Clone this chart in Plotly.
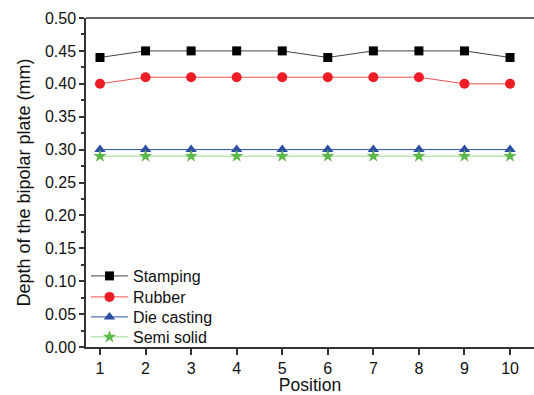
import plotly.graph_objects as go

positions = [1, 2, 3, 4, 5, 6, 7, 8, 9, 10]
stamping = [0.44, 0.45, 0.45, 0.45, 0.45, 0.44, 0.45, 0.45, 0.45, 0.44]
rubber = [0.40, 0.41, 0.41, 0.41, 0.41, 0.41, 0.41, 0.41, 0.40, 0.40]
die_casting = [0.30, 0.30, 0.30, 0.30, 0.30, 0.30, 0.30, 0.30, 0.30, 0.30]
semi_solid = [0.29, 0.29, 0.29, 0.29, 0.29, 0.29, 0.29, 0.29, 0.29, 0.29]

series = [
    ("Stamping", stamping, "#000000", "#444444", "square", 9),
    ("Rubber", rubber, "#ee1c24", "#f05050", "circle", 10),
    ("Die casting", die_casting, "#2b4ea2", "#2b4ea2", "triangle-up", 10),
    ("Semi solid", semi_solid, "#5cb848", "#9ad88a", "star", 10),
]
legend_ids = ["legend", "legend2", "legend3", "legend4"]
legend_rows_px = [276, 297, 317, 337]

W, H = 534, 395
ML, MR, MT, MB = 86, 0, 18, 48
plot_h = H - MT - MB

fig = go.Figure()
for (name, vals, mc, lc, sym, sz), lid in zip(series, legend_ids):
    fig.add_trace(go.Scatter(
        x=positions, y=vals, name=name, mode="lines+markers",
        line=dict(color=lc, width=1),
        marker=dict(symbol=sym, size=sz, color=mc, line=dict(width=0)),
        legend=lid,
    ))

font = "Arial, Liberation Sans, sans-serif"
layout_legends = {}
for lid, ypx in zip(legend_ids, legend_rows_px):
    layout_legends[lid] = dict(
        x=0.0, y=(H - MB - ypx) / plot_h, xanchor="left", yanchor="middle",
        bgcolor="rgba(0,0,0,0)", font=dict(size=16, family=font),
        itemwidth=37,
    )

fig.update_layout(
    width=W, height=H,
    margin=dict(l=ML, r=MR, t=MT, b=MB, autoexpand=False),
    paper_bgcolor="white", plot_bgcolor="white",
    font=dict(family=font, size=16, color="#111111"),
    showlegend=True,
    **layout_legends,
)
fig.update_xaxes(
    range=[0.693, 10.526], tickmode="array", tickvals=positions,
    ticktext=[str(p) for p in positions], automargin=True,
    showgrid=False, zeroline=False,
    showline=True, linecolor="#333333", linewidth=1.5, mirror=False,
    ticks="outside", ticklen=6, tickwidth=1.5, tickcolor="#333333",
    title=dict(text="Position", standoff=3, font=dict(size=17.5)),
)
fig.update_yaxes(
    range=[0, 0.5], tickmode="array", automargin=True,
    tickvals=[0, 0.05, 0.1, 0.15, 0.2, 0.25, 0.3, 0.35, 0.4, 0.45, 0.5],
    ticktext=["0.00", "0.05", "0.10", "0.15", "0.20", "0.25", "0.30", "0.35", "0.40", "0.45", "0.50"],
    showgrid=False, zeroline=False,
    showline=True, linecolor="#333333", linewidth=1.5,
    ticks="outside", ticklen=5, tickwidth=1.5, tickcolor="#333333",
    minor=dict(tickvals=[0.025 + 0.05 * i for i in range(10)], ticks="outside",
               ticklen=3, tickwidth=1.5, tickcolor="#333333"),
    title=dict(text="Depth of the bipolar plate (mm)", standoff=10, font=dict(size=18)),
)
# top border line
fig.add_shape(type="line", xref="paper", yref="paper", x0=0, x1=1, y0=1, y1=1,
              line=dict(color="#333333", width=1.5))

fig.write_html("out.html", config={"displayModeBar": False},
               post_script="document.body.style.margin='0';document.body.style.overflow='hidden';")
